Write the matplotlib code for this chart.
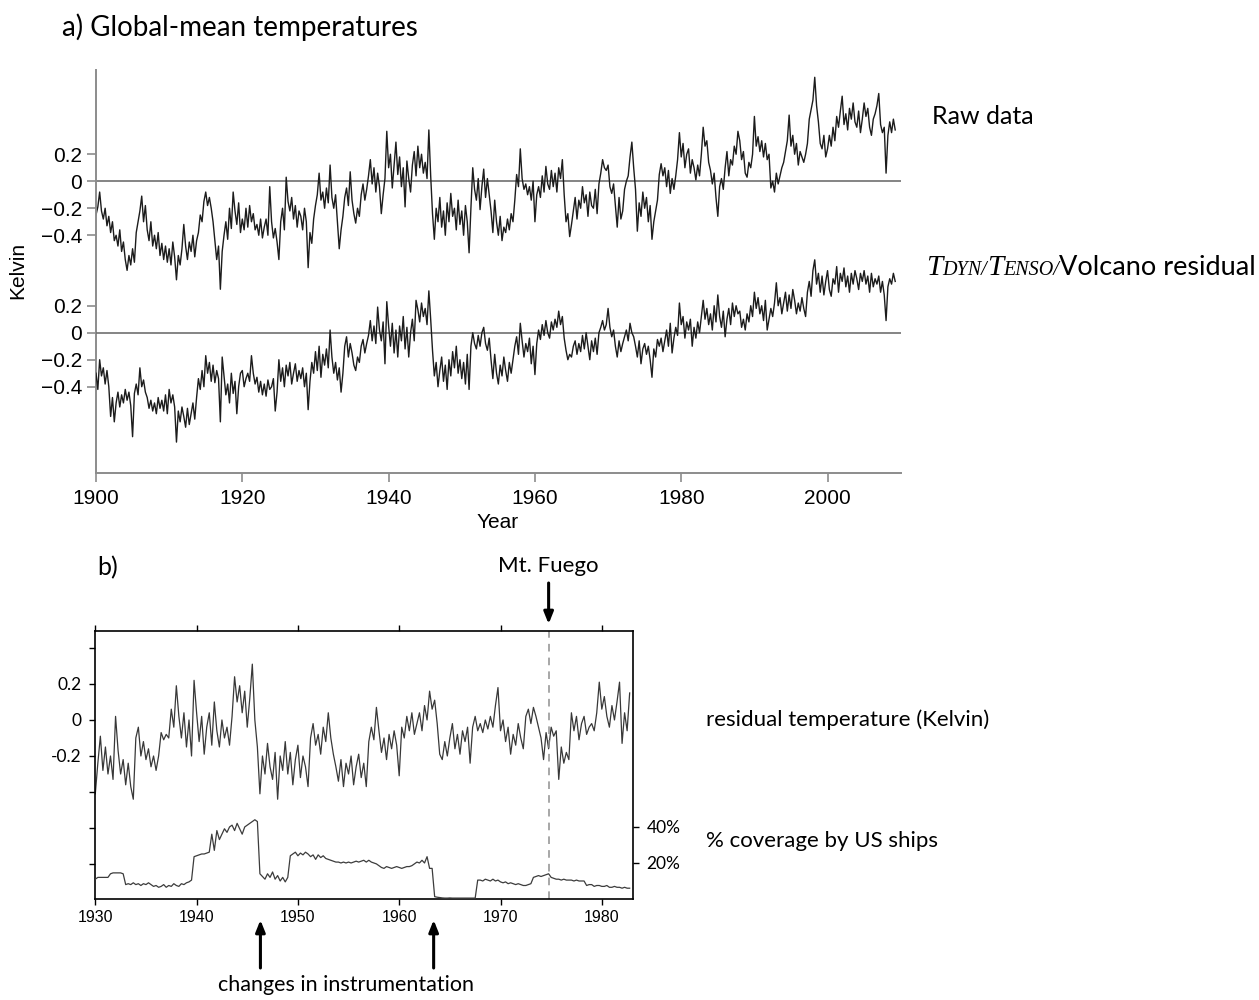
import numpy as np
import matplotlib
matplotlib.use("Agg")
import matplotlib.pyplot as plt
from matplotlib.offsetbox import TextArea, HPacker, AnnotationBbox

# ---- data (4 samples per year) ----
# panel a, raw global-mean temperature anomaly (K), 1900.00 ... 2009.25
raw_temp = [
    -0.25, -0.19, -0.08, -0.22, -0.28, -0.20, -0.33, -0.26, -0.38, -0.30, -0.44, -0.40, -0.48, -0.36, -0.52, -0.45, -0.58, -0.66, -0.55, -0.62,
    -0.50, -0.60, -0.38, -0.30, -0.22, -0.11, -0.30, -0.18, -0.36, -0.44, -0.30, -0.48, -0.40, -0.50, -0.38, -0.55, -0.46, -0.58, -0.48, -0.60,
    -0.50, -0.62, -0.45, -0.56, -0.73, -0.55, -0.62, -0.50, -0.32, -0.48, -0.58, -0.45, -0.52, -0.40, -0.56, -0.44, -0.38, -0.25, -0.30, -0.15,
    -0.08, -0.18, -0.12, -0.20, -0.30, -0.44, -0.58, -0.48, -0.80, -0.52, -0.40, -0.30, -0.43, -0.20, -0.35, -0.08, -0.22, -0.32, -0.16, -0.38,
    -0.28, -0.36, -0.20, -0.34, -0.18, -0.30, -0.24, -0.36, -0.32, -0.40, -0.28, -0.42, -0.34, -0.28, -0.40, -0.04, -0.30, -0.42, -0.35, -0.45,
    -0.58, -0.30, -0.20, -0.36, 0.03, -0.15, -0.22, -0.12, -0.28, -0.18, -0.34, -0.22, -0.26, -0.36, -0.20, -0.30, -0.64, -0.38, -0.46, -0.28,
    -0.18, -0.10, 0.06, -0.14, -0.08, -0.20, -0.05, -0.16, 0.12, -0.12, -0.20, -0.10, -0.30, -0.50, -0.36, -0.26, -0.12, -0.05, -0.18, 0.07,
    -0.14, -0.24, -0.31, -0.20, -0.26, -0.10, -0.02, -0.14, -0.06, 0.04, 0.16, -0.02, 0.10, -0.08, 0.06, -0.04, -0.24, -0.10, 0.02, 0.37,
    0.10, 0.20, -0.05, 0.12, 0.29, 0.05, 0.18, -0.04, 0.10, -0.19, 0.15, 0.02, -0.08, 0.12, 0.22, 0.04, 0.26, 0.10, 0.20, 0.06,
    0.14, 0.02, 0.38, 0.04, -0.24, -0.43, -0.20, -0.30, -0.12, -0.34, -0.22, -0.40, -0.16, -0.30, -0.09, -0.26, -0.20, -0.36, -0.14, -0.32,
    -0.22, -0.40, -0.18, -0.30, -0.53, -0.20, 0.10, -0.06, -0.14, 0.02, -0.21, -0.04, 0.09, -0.12, 0.02, -0.10, -0.22, -0.38, -0.14, -0.30,
    -0.40, -0.26, -0.44, -0.34, -0.38, -0.28, -0.36, -0.24, -0.30, -0.14, 0.05, -0.04, 0.24, 0.02, -0.06, -0.02, -0.10, -0.04, -0.14, 0.00,
    -0.30, -0.10, -0.04, -0.12, 0.04, -0.08, 0.11, -0.02, -0.06, 0.08, -0.04, 0.06, -0.08, 0.10, 0.02, 0.16, -0.10, -0.30, -0.24, -0.41,
    -0.32, -0.22, -0.12, -0.28, -0.14, -0.20, -0.04, -0.16, -0.10, -0.26, -0.08, -0.18, -0.20, -0.06, -0.24, -0.02, 0.06, 0.16, 0.10, 0.08,
    0.12, -0.04, -0.09, -0.02, -0.18, -0.34, -0.12, -0.28, -0.22, -0.06, 0.00, 0.04, 0.18, 0.29, 0.10, -0.06, -0.37, -0.16, -0.26, -0.08,
    -0.20, -0.12, -0.30, -0.18, -0.43, -0.30, -0.22, -0.14, 0.05, 0.13, 0.04, 0.10, -0.04, 0.08, -0.09, 0.02, -0.06, 0.04, 0.16, 0.36,
    0.18, 0.28, 0.10, 0.20, 0.24, 0.06, 0.16, 0.10, 0.01, 0.12, 0.04, 0.20, 0.40, 0.26, 0.30, 0.14, 0.08, -0.02, 0.06, -0.12,
    -0.26, -0.04, 0.02, -0.06, 0.10, 0.22, 0.04, 0.16, 0.12, 0.26, 0.20, 0.37, 0.30, 0.16, 0.22, 0.06, 0.03, 0.14, 0.10, 0.20,
    0.48, 0.26, 0.33, 0.22, 0.30, 0.18, 0.28, 0.16, 0.20, -0.05, 0.00, -0.08, 0.06, -0.02, 0.04, 0.10, 0.14, 0.22, 0.30, 0.49,
    0.26, 0.34, 0.20, 0.28, 0.12, 0.22, 0.18, 0.14, 0.20, 0.28, 0.46, 0.53, 0.60, 0.77, 0.56, 0.44, 0.28, 0.24, 0.34, 0.18,
    0.24, 0.34, 0.26, 0.40, 0.30, 0.48, 0.40, 0.52, 0.63, 0.42, 0.50, 0.38, 0.54, 0.46, 0.58, 0.44, 0.40, 0.52, 0.36, 0.46,
    0.58, 0.48, 0.54, 0.40, 0.34, 0.46, 0.50, 0.56, 0.65, 0.42, 0.36, 0.40, 0.06, 0.34, 0.44, 0.36, 0.46, 0.38,
]

# panel a, TDYN/TENSO/volcano residual (K), 1900.00 ... 2009.25
resid_temp = [
    -0.30, -0.42, -0.20, -0.32, -0.26, -0.38, -0.28, -0.40, -0.62, -0.48, -0.66, -0.52, -0.44, -0.55, -0.46, -0.52, -0.42, -0.50, -0.44, -0.54,
    -0.77, -0.45, -0.38, -0.46, -0.26, -0.40, -0.35, -0.44, -0.48, -0.56, -0.50, -0.58, -0.52, -0.60, -0.48, -0.56, -0.50, -0.58, -0.46, -0.60,
    -0.42, -0.52, -0.46, -0.55, -0.81, -0.58, -0.66, -0.55, -0.62, -0.70, -0.56, -0.68, -0.60, -0.52, -0.64, -0.48, -0.34, -0.42, -0.28, -0.40,
    -0.17, -0.30, -0.22, -0.36, -0.24, -0.37, -0.28, -0.34, -0.66, -0.18, -0.32, -0.46, -0.38, -0.52, -0.30, -0.45, -0.36, -0.60, -0.40, -0.30,
    -0.28, -0.40, -0.34, -0.30, -0.36, -0.17, -0.30, -0.38, -0.33, -0.44, -0.36, -0.46, -0.38, -0.47, -0.35, -0.42, -0.40, -0.34, -0.58, -0.44,
    -0.20, -0.36, -0.26, -0.40, -0.24, -0.32, -0.22, -0.38, -0.30, -0.23, -0.36, -0.28, -0.34, -0.26, -0.40, -0.30, -0.57, -0.36, -0.22, -0.30,
    -0.14, -0.28, -0.10, -0.33, -0.16, -0.24, -0.12, -0.26, 0.02, -0.18, -0.30, -0.22, -0.35, -0.26, -0.44, -0.30, -0.10, -0.03, -0.18, -0.08,
    -0.15, -0.24, -0.28, -0.18, -0.22, -0.10, -0.05, -0.15, -0.08, -0.02, 0.09, -0.06, 0.05, -0.08, 0.19, 0.02, -0.06, 0.08, -0.23, 0.23,
    0.05, -0.10, 0.07, -0.15, 0.02, -0.18, 0.05, -0.06, 0.12, -0.12, 0.04, -0.18, 0.00, 0.10, -0.06, 0.24, 0.17, 0.08, 0.22, 0.12,
    0.18, 0.06, 0.31, 0.10, -0.13, -0.32, -0.22, -0.40, -0.28, -0.18, -0.36, -0.24, -0.42, -0.20, -0.32, -0.14, -0.26, -0.10, -0.30, -0.20,
    -0.34, -0.22, -0.38, -0.16, -0.42, -0.10, 0.00, -0.08, -0.12, -0.02, -0.10, 0.00, 0.04, -0.08, -0.13, -0.04, -0.20, -0.34, -0.16, -0.30,
    -0.38, -0.24, -0.32, -0.18, -0.28, -0.36, -0.22, -0.30, -0.20, -0.10, -0.03, -0.16, 0.07, -0.06, -0.18, -0.08, -0.14, -0.04, -0.23, -0.10,
    -0.31, -0.08, 0.02, -0.05, 0.06, -0.02, 0.09, 0.00, -0.04, 0.08, 0.02, 0.10, 0.04, 0.16, 0.06, 0.12, -0.04, -0.13, -0.20, -0.16,
    -0.18, -0.10, -0.06, -0.16, -0.08, -0.14, -0.02, -0.12, 0.00, -0.10, -0.20, -0.06, -0.14, -0.04, -0.16, 0.00, 0.04, 0.09, 0.02, 0.06,
    0.18, 0.04, -0.03, 0.02, -0.10, -0.18, -0.06, -0.14, -0.08, -0.03, 0.02, -0.06, 0.07, 0.00, -0.03, -0.10, -0.18, -0.06, -0.23, -0.12,
    -0.08, -0.16, -0.10, -0.20, -0.33, -0.12, -0.18, -0.05, -0.10, -0.04, -0.14, -0.06, 0.02, -0.10, 0.07, -0.15, -0.04, 0.04, -0.02, 0.22,
    0.06, 0.12, -0.04, 0.08, 0.02, 0.10, -0.10, 0.04, -0.04, 0.08, 0.00, 0.12, 0.24, 0.10, 0.18, 0.06, 0.14, 0.02, 0.20, 0.08,
    0.28, 0.12, 0.04, 0.16, -0.03, 0.10, 0.18, 0.06, 0.22, 0.12, 0.20, 0.14, 0.16, 0.04, 0.10, 0.02, 0.14, 0.08, 0.20, 0.12,
    0.30, 0.18, 0.26, 0.14, 0.20, 0.09, 0.24, 0.02, 0.10, 0.18, 0.12, 0.22, 0.37, 0.20, 0.26, 0.14, 0.22, 0.30, 0.16, 0.28,
    0.18, 0.32, 0.24, 0.14, 0.22, 0.16, 0.26, 0.18, 0.12, 0.30, 0.38, 0.27, 0.46, 0.54, 0.36, 0.44, 0.30, 0.42, 0.28, 0.38,
    0.46, 0.32, 0.27, 0.40, 0.36, 0.49, 0.30, 0.44, 0.38, 0.48, 0.34, 0.42, 0.30, 0.44, 0.36, 0.46, 0.40, 0.32, 0.44, 0.38,
    0.46, 0.36, 0.42, 0.30, 0.44, 0.34, 0.40, 0.36, 0.42, 0.30, 0.38, 0.28, 0.09, 0.34, 0.40, 0.36, 0.44, 0.38,
]

# panel b, residual temperature (K), 1930.00 ... 1982.75
resid_b = [
    -0.41, -0.24, -0.09, -0.28, -0.15, -0.30, -0.20, -0.33, 0.02, -0.17, -0.30, -0.22, -0.36, -0.24, -0.37, -0.44, -0.10, -0.04, -0.20, -0.12,
    -0.22, -0.16, -0.26, -0.20, -0.28, -0.20, -0.07, -0.11, -0.08, -0.10, 0.06, -0.04, 0.19, 0.02, -0.10, 0.04, -0.15, 0.00, -0.20, 0.22,
    0.04, -0.12, 0.02, -0.19, -0.04, 0.04, -0.14, 0.10, -0.06, -0.15, 0.00, -0.10, -0.04, -0.14, 0.02, 0.24, 0.10, 0.19, 0.04, 0.16,
    -0.04, 0.12, 0.31, 0.00, -0.15, -0.41, -0.20, -0.30, -0.13, -0.26, -0.33, -0.18, -0.44, -0.20, -0.28, -0.12, -0.30, -0.18, -0.36, -0.22,
    -0.14, -0.32, -0.20, -0.26, -0.37, -0.10, -0.02, -0.14, -0.08, -0.19, -0.04, -0.12, 0.04, -0.10, -0.19, -0.26, -0.34, -0.22, -0.37, -0.24,
    -0.30, -0.20, -0.36, -0.26, -0.19, -0.32, -0.24, -0.37, -0.12, -0.04, -0.11, 0.07, -0.06, -0.18, -0.10, -0.22, -0.08, -0.16, -0.06, -0.14,
    -0.31, -0.04, -0.10, 0.02, -0.06, 0.04, -0.08, -0.02, 0.04, -0.06, 0.08, 0.00, 0.16, 0.06, 0.11, -0.02, -0.19, -0.22, -0.12, -0.20,
    -0.10, -0.02, -0.16, -0.08, -0.19, -0.06, -0.12, -0.04, -0.24, -0.04, 0.02, -0.06, -0.02, -0.07, 0.00, -0.05, 0.02, -0.04, 0.08, 0.18,
    -0.06, 0.00, -0.12, -0.04, -0.19, -0.08, -0.14, -0.02, -0.10, -0.16, 0.02, 0.06, -0.02, 0.07, 0.02, -0.04, -0.10, -0.22, -0.07, -0.16,
    -0.04, -0.09, -0.06, -0.33, -0.15, -0.24, -0.18, -0.22, 0.04, -0.06, 0.02, -0.11, -0.02, 0.02, -0.08, -0.04, -0.02, -0.06, 0.04, 0.21,
    0.06, 0.13, 0.02, -0.04, 0.08, 0.00, 0.10, 0.21, -0.13, 0.04, -0.06, 0.15,
]

# panel b, % of observations from US ships, 1930.00 ... 1982.75
us_coverage = [
    11, 12, 12, 12, 12, 12, 14, 14.5, 14.5, 14.5, 14.5, 14, 8, 8.5, 8, 9, 8, 8.5, 7.5, 8.5,
    8, 9, 8, 7, 7.5, 6.5, 7, 8, 6.5, 7.5, 7, 8.5, 7.5, 7, 8.5, 8, 9, 9.5, 10.5, 23.5,
    24, 24.5, 25, 25, 25.5, 26, 36, 27, 38, 33, 36, 39, 37, 40, 41, 38, 42, 39, 36, 40,
    41, 42, 43, 44, 43, 14, 12.5, 11, 14, 12, 15, 11, 13, 10, 12, 9.5, 12, 24, 25, 26,
    24, 25.5, 24.5, 26, 25, 23.5, 24.5, 22, 24.5, 23, 24, 22.5, 22, 21.5, 21, 20.5, 20.5, 20, 20.5, 20,
    20.5, 20, 20.5, 21, 20.5, 21, 21.5, 20.5, 21.5, 20.5, 20, 19.5, 18.5, 17.5, 17, 18, 17.5, 17, 17.5, 18,
    17.5, 17, 17.5, 18, 18, 18.5, 19.5, 20.5, 20, 21.5, 20, 23.5, 17, 17, 1.3, 1, 0.8, 0.6, 0.5, 0.5,
    0.6, 0.5, 0.5, 0.5, 0.5, 0.5, 0.5, 0.5, 0.5, 0.5, 0.5, 10.5, 10.5, 10, 11, 10.5, 10, 11, 10, 10.5,
    9.5, 9, 9.5, 8.5, 9, 8.5, 8, 8.5, 8, 7.5, 7.5, 8, 8.5, 12, 12.5, 13, 12.5, 13, 13.5, 14,
    12, 11.5, 11, 11, 10.5, 11, 10.5, 10.5, 10.5, 10, 10.5, 10, 10, 10, 7.5, 8, 8, 7, 7.5, 7.5,
    7, 7, 7.5, 6.5, 6.5, 7, 6.5, 6.5, 6, 6.5, 6, 6,
]

years_a = 1900 + 0.25 * np.arange(len(raw_temp))
years_b = 1930 + 0.25 * np.arange(len(resid_b))

year_ticks_a = [1900, 1920, 1940, 1960, 1980, 2000]
year_ticks_b = [1930, 1940, 1950, 1960, 1970, 1980]
k_ticks = [0.2, 0, -0.2, -0.4]
k_labels = ["0.2", "0", "\u22120.2", "\u22120.4"]
fuego_year = 1974.75
instrument_years = [1946.3, 1963.4]

W, H = 1259, 1000
SANS = "Liberation Sans"
MYRIAD = "Lato"


def rect(x0, y0, x1, y1):
    # pixel box (top-left origin) -> figure fraction
    return [x0 / W, 1 - y1 / H, (x1 - x0) / W, (y1 - y0) / H]


fig = plt.figure(figsize=(W / 100, H / 100), dpi=100)

# ---------------- panel a ----------------
grey = "#8c8c8c"
box_a = rect(96, 70, 900.7, 473)
ax_a = fig.add_axes(box_a)
ax_a2 = fig.add_axes(box_a, facecolor="none")

ax_a.set_xlim(1900, 2010)
ax_a2.set_xlim(1900, 2010)
ax_a.set_ylim(-2.161, 0.824)
ax_a2.set_ylim(-1.039, 1.946)

ax_a.plot(years_a, raw_temp, color="#1c1c1c", lw=1.0)
ax_a2.plot(years_a, resid_temp, color="#1c1c1c", lw=1.0)
for a in (ax_a, ax_a2):
    a.axhline(0, color="#707070", lw=1.2, zorder=0)
    a.set_yticks(k_ticks)
    a.set_yticklabels(k_labels, fontfamily=SANS, fontsize=15)
    a.tick_params(axis="y", direction="out", length=6.5, width=1.2,
                  color=grey, pad=3.5)
    a.spines["top"].set_visible(False)
    a.spines["right"].set_visible(False)

ax_a2.spines["left"].set_visible(False)
ax_a2.spines["bottom"].set_visible(False)
ax_a2.set_xticks([])
for s in ("left", "bottom"):
    ax_a.spines[s].set_color(grey)
    ax_a.spines[s].set_linewidth(1.4)
ax_a.set_xticks(year_ticks_a)
ax_a.set_xticklabels([str(y) for y in year_ticks_a], fontfamily=SANS, fontsize=15)
ax_a.tick_params(axis="x", direction="out", length=6.5, width=1.2, color=grey, pad=5)

fig.text(498 / W, 1 - 522 / H, "Year", fontfamily=SANS, fontsize=15, ha="center", va="center")
fig.text(18 / W, 1 - 270 / H, "Kelvin", fontfamily=SANS, fontsize=15, rotation=90,
         ha="center", va="center")
fig.text(62 / W, 1 - 27 / H, "a) Global-mean temperatures", fontfamily=MYRIAD,
         fontsize=20, ha="left", va="center")
fig.text(932 / W, 1 - 117 / H, "Raw data", fontfamily=MYRIAD, fontsize=18,
         ha="left", va="center")

big = dict(family="Liberation Serif", style="italic", size=21)
small = dict(family="Liberation Serif", style="italic", size=14.5)
parts = [TextArea("T", textprops=big), TextArea("DYN/", textprops=small),
         TextArea("T", textprops=big), TextArea("ENSO/", textprops=small),
         TextArea("Volcano residual", textprops=dict(family=MYRIAD, size=19.5))]
pack = HPacker(children=parts, align="baseline", pad=0, sep=0)
fig.add_artist(AnnotationBbox(pack, (926, H - 268), xycoords="figure pixels",
                              box_alignment=(0, 0.5), frameon=False, pad=0))

# ---------------- panel b ----------------
ax_b = fig.add_axes(rect(95.3, 631, 632.7, 899))
ax_b.set_xlim(1930, 1983.05)
ax_b.set_ylim(-0.994, 0.494)
ax_b.plot(years_b, resid_b, color="#383838", lw=0.9)
ax_b.axvline(fuego_year, color="#909090", lw=1.1, ls=(0, (5, 4)))

for s in ax_b.spines.values():
    s.set_linewidth(1.2)
ax_b.set_xticks(year_ticks_b)
ax_b.set_xticklabels([str(y) for y in year_ticks_b], fontfamily=SANS, fontsize=11.5)
ax_b.tick_params(axis="x", top=True, bottom=True, direction="out", length=4,
                 width=1.0, pad=4)
ax_b.set_yticks([0.4, 0.2, 0, -0.2, -0.4, -0.6, -0.8])
ax_b.set_yticklabels(["", "0.2", "0", "-0.2", "", "", ""], fontfamily=MYRIAD, fontsize=12.5)
ax_b.tick_params(axis="y", left=True, right=True, labelleft=False, labelright=True,
                 direction="out", length=4, width=1.0, pad=6)

ax_c = ax_b.twinx()
ax_c.set_ylim(0, 148.8)
ax_c.plot(years_b, us_coverage, color="#3c3c3c", lw=0.9)
for s in ax_c.spines.values():
    s.set_visible(False)
ax_c.set_yticks([40, 20])
ax_c.set_yticklabels(["40%", "20%"], fontfamily=MYRIAD, fontsize=12.5)
ax_c.tick_params(axis="y", direction="out", length=4, width=1.0, pad=6)

fig.text(97 / W, 1 - 568 / H, "b)", fontfamily=MYRIAD, fontsize=18, ha="left", va="center")
fig.text(706 / W, 1 - 720 / H, "residual temperature (Kelvin)", fontfamily=MYRIAD,
         fontsize=16, ha="left", va="center")
fig.text(706 / W, 1 - 841 / H, "% coverage by US ships", fontfamily=MYRIAD,
         fontsize=16, ha="left", va="center")
fig.text(346 / W, 1 - 985 / H, "changes in instrumentation", fontfamily=MYRIAD,
         fontsize=15.5, ha="center", va="center")

arrow = dict(arrowstyle="-|>,head_length=0.7,head_width=0.28", lw=2.2, color="black",
             shrinkA=0, shrinkB=0)
ax_b.annotate("Mt. Fuego", xy=(fuego_year, H - 566), xycoords=("data", "figure pixels"),
              ha="center", va="center", fontfamily=MYRIAD, fontsize=16,
              annotation_clip=False)
ax_b.annotate("", xy=(fuego_year, H - 624), xycoords=("data", "figure pixels"),
              xytext=(fuego_year, H - 583), textcoords=("data", "figure pixels"),
              arrowprops=arrow, annotation_clip=False)
for yr in instrument_years:
    ax_b.annotate("", xy=(yr, H - 920), xycoords=("data", "figure pixels"),
                  xytext=(yr, H - 968), textcoords=("data", "figure pixels"),
                  arrowprops=arrow, annotation_clip=False)

fig.savefig("out.png", dpi=100)
